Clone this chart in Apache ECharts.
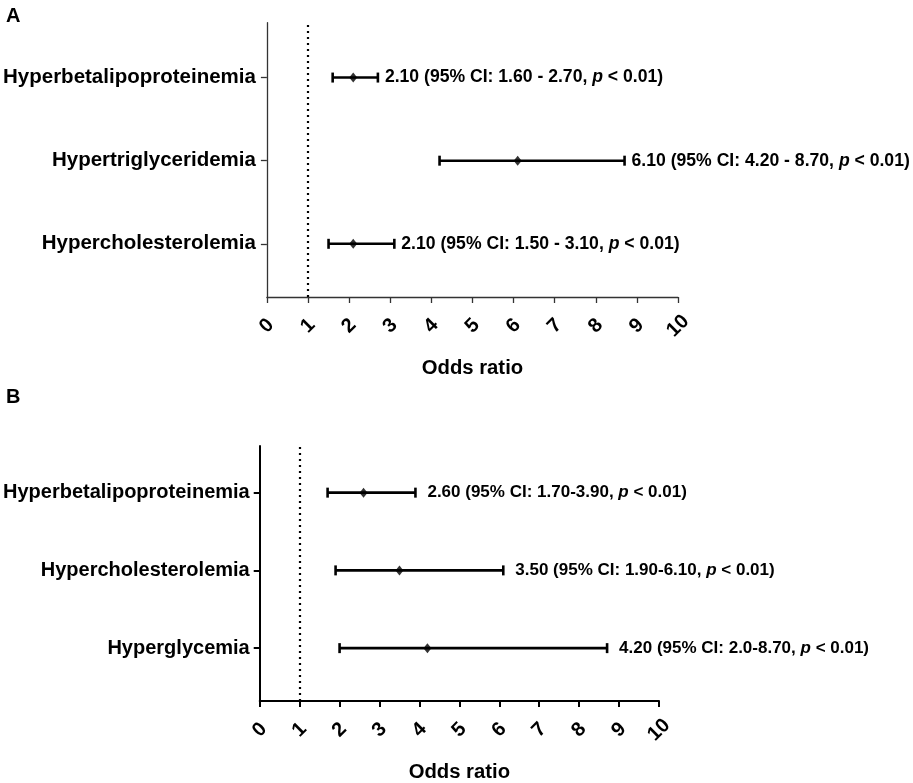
<!DOCTYPE html>
<html>
<head>
<meta charset="utf-8">
<script src="https://cdn.jsdelivr.net/npm/echarts@6/dist/echarts.min.js"></script>
<style>
html, body { margin: 0; padding: 0; background: #fff; }
#main { width: 913px; height: 783px; }
</style>
</head>
<body>
<div id="main"></div>
<script>
// panel A (rows top to bottom)
var namesA = ['Hyperbetalipoproteinemia', 'Hypertriglyceridemia', 'Hypercholesterolemia'];
var orA = [2.10, 6.10, 2.10];
var loA = [1.60, 4.20, 1.50];
var hiA = [2.70, 8.70, 3.10];
var orTextA = ['2.10', '6.10', '2.10'];
var ciTextA = ['1.60 - 2.70', '4.20 - 8.70', '1.50 - 3.10'];
// panel B
var namesB = ['Hyperbetalipoproteinemia', 'Hypercholesterolemia', 'Hyperglycemia'];
var orB = [2.60, 3.50, 4.20];
var loB = [1.70, 1.90, 2.0];
var hiB = [3.90, 6.10, 8.70];
var orTextB = ['2.60', '3.50', '4.20'];
var ciTextB = ['1.70-3.90', '1.90-6.10', '2.0-8.70'];

var FONT = 'Liberation Sans, Arial, sans-serif';
var chart = echarts.init(document.getElementById('main'));

// row 0 is drawn at y=3, row 2 at y=1
function rows(n) { return n.map(function (v, i) { return 3 - i; }); }

function ciRender(orText, ciText, fs, gap) {
    return function (params, api) {
        var i = params.dataIndex;
        var y = api.value(2);
        var p0 = api.coord([api.value(0), y]);
        var p1 = api.coord([api.value(1), y]);
        var st = { stroke: '#000', lineWidth: 2.6 };
        var cap = 5;
        return {
            type: 'group',
            children: [
                { type: 'line', shape: { x1: p0[0], y1: p0[1], x2: p1[0], y2: p1[1] }, style: st },
                { type: 'line', shape: { x1: p0[0], y1: p0[1] - cap, x2: p0[0], y2: p0[1] + cap }, style: st },
                { type: 'line', shape: { x1: p1[0], y1: p1[1] - cap, x2: p1[0], y2: p1[1] + cap }, style: st },
                {
                    type: 'text', x: p1[0] + gap, y: p1[1],
                    style: {
                        text: '{b|' + orText[i] + ' (95% CI: ' + ciText[i] + ', }{i|p}{b| < 0.01)}',
                        verticalAlign: 'middle',
                        rich: {
                            b: { fontFamily: FONT, fontWeight: 'bold', fontSize: fs, fill: '#000' },
                            i: { fontFamily: FONT, fontWeight: 'bold', fontStyle: 'italic', fontSize: fs, fill: '#000' }
                        }
                    }
                }
            ]
        };
    };
}

function xAxisCfg(gi, lineW, color, gap) {
    return {
        type: 'value', gridIndex: gi, min: 0, max: 10, interval: 1,
        name: 'Odds ratio', nameLocation: 'middle', nameGap: gap,
        nameTextStyle: { fontFamily: FONT, fontWeight: 'bold', fontSize: 20.3, color: '#000' },
        axisLine: { show: true, lineStyle: { color: color, width: lineW } },
        axisTick: { show: true, length: 6, lineStyle: { color: color, width: lineW } },
        splitLine: { show: false },
        axisLabel: {
            rotate: 45, margin: 29, color: '#000',
            align: 'center', verticalAlign: 'middle',
            fontFamily: FONT, fontWeight: 'bold', fontSize: 20
        }
    };
}

function yAxisCfg(gi, names, min, max, lineW, color, fs, margin) {
    return {
        type: 'value', gridIndex: gi, min: min, max: max,
        axisLine: { show: true, lineStyle: { color: color, width: lineW } },
        axisTick: { show: true, length: 6, customValues: [1, 2, 3], lineStyle: { color: color, width: lineW } },
        splitLine: { show: false },
        axisLabel: {
            customValues: [1, 2, 3], margin: margin, color: '#000',
            fontFamily: FONT, fontWeight: 'bold', fontSize: fs,
            formatter: function (v) { return names[3 - Math.round(v)]; }
        }
    };
}

var rowA = rows(namesA), rowB = rows(namesB);

var option = {
    animation: false,
    backgroundColor: '#fff',
    graphic: [
        { type: 'text', left: 6, top: 6, style: { text: 'A', fontFamily: FONT, fontWeight: 'bold', fontSize: 20, fill: '#000' } },
        { type: 'text', left: 6, top: 387, style: { text: 'B', fontFamily: FONT, fontWeight: 'bold', fontSize: 20, fill: '#000' } }
    ],
    grid: [
        { left: 266.7, right: 235, top: 22.7, height: 274.3 },
        { left: 259, right: 254, top: 446, height: 262 }
    ],
    xAxis: [xAxisCfg(0, 1.3, '#333', 61), xAxisCfg(1, 2, '#000', 61)],
    yAxis: [
        yAxisCfg(0, namesA, 0.36, 3.66, 1.3, '#333', 20.5, 11),
        yAxisCfg(1, namesB, 0.32, 3.6, 2, '#000', 20, 10)
    ],
    series: [
        {
            type: 'custom', xAxisIndex: 0, yAxisIndex: 0,
            renderItem: ciRender(orTextA, ciTextA, 17.6, 7),
            encode: { x: [0, 1], y: 2 },
            data: loA.map(function (v, i) { return [v, hiA[i], rowA[i]]; })
        },
        {
            type: 'scatter', xAxisIndex: 0, yAxisIndex: 0,
            symbol: 'diamond', symbolSize: [8, 10],
            itemStyle: { color: '#000' },
            data: orA.map(function (v, i) { return [v, rowA[i]]; }),
            markLine: {
                silent: true, symbol: 'none', label: { show: false },
                lineStyle: { type: [2, 4], color: '#000', width: 2.2 },
                data: [{ xAxis: 1 }]
            }
        },
        {
            type: 'custom', xAxisIndex: 1, yAxisIndex: 1,
            renderItem: ciRender(orTextB, ciTextB, 17, 12),
            encode: { x: [0, 1], y: 2 },
            data: loB.map(function (v, i) { return [v, hiB[i], rowB[i]]; })
        },
        {
            type: 'scatter', xAxisIndex: 1, yAxisIndex: 1,
            symbol: 'diamond', symbolSize: [8, 10],
            itemStyle: { color: '#000' },
            data: orB.map(function (v, i) { return [v, rowB[i]]; }),
            markLine: {
                silent: true, symbol: 'none', label: { show: false },
                lineStyle: { type: [2, 4], color: '#000', width: 2.2 },
                data: [{ xAxis: 1 }]
            }
        }
    ]
};

chart.setOption(option);
</script>
</body>
</html>
